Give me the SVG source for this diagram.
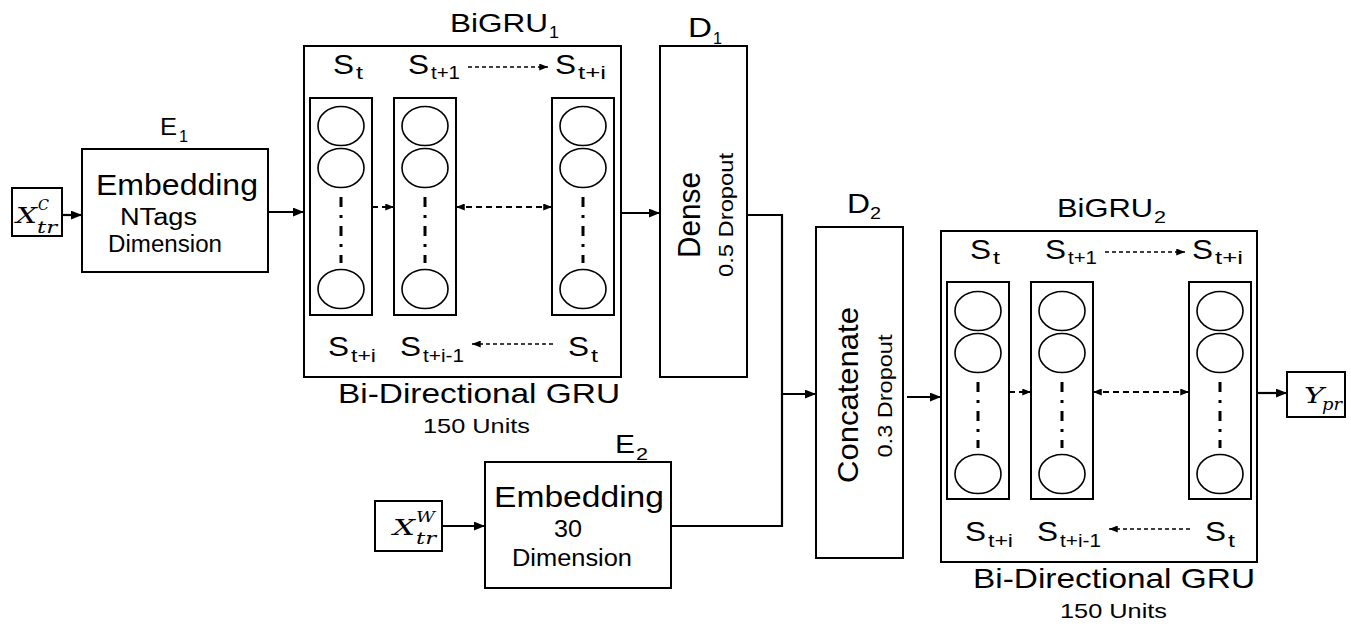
<svg xmlns="http://www.w3.org/2000/svg" width="1351" height="624" viewBox="0 0 1351 624">
<style>
text{font-family:"Liberation Sans",Arial,sans-serif;fill:#000;font-weight:400}
.m{font-family:"DejaVu Serif","Liberation Serif",serif;font-style:italic;font-weight:400}
.box{fill:#fff;stroke:#000;stroke-width:2}
.col{fill:none;stroke:#000;stroke-width:2}
.cell{fill:none;stroke:#000;stroke-width:1.6}
.dd{stroke:#000;stroke-width:3;stroke-dasharray:10 8 3 8;fill:none}
.wire{fill:none;stroke:#000;stroke-width:2.2}
.dash1{fill:none;stroke:#000;stroke-width:1.4;stroke-dasharray:4 3}
.dash2{fill:none;stroke:#000;stroke-width:2.2;stroke-dasharray:6 4}
.s{font-size:28px}
.sb{font-size:18px}
</style>
<defs>
<marker id="ah" viewBox="0 0 10 8" refX="10" refY="4" markerWidth="11" markerHeight="9" markerUnits="userSpaceOnUse" orient="auto"><path d="M0,0L10,4L0,8z" fill="#000"/></marker>
<marker id="ahs" viewBox="0 0 10 8" refX="10" refY="4" markerWidth="9" markerHeight="7" markerUnits="userSpaceOnUse" orient="auto-start-reverse"><path d="M0,0L10,4L0,8z" fill="#000"/></marker>
<g id="colcells">
<ellipse cx="0" cy="126" rx="23" ry="19.5" class="cell"/>
<ellipse cx="0" cy="168" rx="23" ry="19.5" class="cell"/>
<line x1="0" y1="197" x2="0" y2="263" class="dd"/>
<ellipse cx="0" cy="289" rx="23" ry="19.5" class="cell"/>
</g>
</defs>

<g id="connectors">
<line x1="62" y1="215" x2="82" y2="215" class="wire" marker-end="url(#ah)"/>
<line x1="268" y1="212" x2="304" y2="212" class="wire" marker-end="url(#ah)"/>
<line x1="621" y1="213" x2="660" y2="213" class="wire" marker-end="url(#ah)"/>
<polyline points="747,215 782,215 782,394 816,394" class="wire" marker-end="url(#ah)"/>
<polyline points="671,526 782,526 782,394" class="wire"/>
<line x1="442" y1="526" x2="485" y2="526" class="wire" marker-end="url(#ah)"/>
<line x1="907" y1="397" x2="941" y2="397" class="wire" marker-end="url(#ah)"/>
<line x1="1257" y1="393" x2="1287" y2="393" class="wire" marker-end="url(#ah)"/>
</g>

<g id="xc">
<rect x="12" y="188" width="50" height="48" class="box"/>
<text x="16" y="223" class="m" font-size="22" textLength="21" lengthAdjust="spacingAndGlyphs">X</text>
<text x="38" y="210" class="m" font-size="14" textLength="11" lengthAdjust="spacingAndGlyphs">C</text>
<text x="37" y="233" class="m" font-size="16" textLength="20" lengthAdjust="spacingAndGlyphs">tr</text>
</g>

<g id="e1">
<rect x="82" y="149" width="186" height="123" class="box"/>
<text x="160" y="135" font-size="24" textLength="17" lengthAdjust="spacingAndGlyphs">E</text>
<text x="179" y="142" font-size="16" textLength="9" lengthAdjust="spacingAndGlyphs">1</text>
<text x="96" y="195" font-size="30" textLength="162" lengthAdjust="spacingAndGlyphs">Embedding</text>
<text x="120" y="225" font-size="23" textLength="77" lengthAdjust="spacingAndGlyphs">NTags</text>
<text x="108" y="252" font-size="23" textLength="114" lengthAdjust="spacingAndGlyphs">Dimension</text>
</g>

<g id="bigru1">
<text x="450" y="32" font-size="25" textLength="98" lengthAdjust="spacingAndGlyphs">BiGRU</text>
<text x="549" y="38" font-size="17" textLength="10" lengthAdjust="spacingAndGlyphs">1</text>
<g id="bigru1-body">
<rect x="304" y="46" width="317" height="331" class="box"/>
<text x="333" y="74" class="s" textLength="21" lengthAdjust="spacingAndGlyphs">S</text>
<text x="356" y="79" class="sb" textLength="7" lengthAdjust="spacingAndGlyphs">t</text>
<text x="408" y="74" class="s" textLength="21" lengthAdjust="spacingAndGlyphs">S</text>
<text x="431" y="79" class="sb" textLength="29" lengthAdjust="spacingAndGlyphs">t+1</text>
<line x1="468" y1="67" x2="548" y2="67" class="dash1" marker-end="url(#ahs)"/>
<text x="555" y="74" class="s" textLength="21" lengthAdjust="spacingAndGlyphs">S</text>
<text x="578" y="79" class="sb" textLength="28" lengthAdjust="spacingAndGlyphs">t+i</text>
<rect x="310" y="98" width="62" height="217" class="col"/>
<rect x="394" y="98" width="62" height="217" class="col"/>
<rect x="552" y="98" width="62" height="217" class="col"/>
<use href="#colcells" x="341"/>
<use href="#colcells" x="425"/>
<use href="#colcells" x="583"/>
<line x1="372" y1="207" x2="394" y2="207" class="dash2" marker-end="url(#ahs)"/>
<line x1="456" y1="207" x2="552" y2="207" class="dash2" marker-start="url(#ahs)" marker-end="url(#ahs)"/>
<text x="328" y="356" class="s" textLength="21" lengthAdjust="spacingAndGlyphs">S</text>
<text x="351" y="362" class="sb" textLength="25" lengthAdjust="spacingAndGlyphs">t+i</text>
<text x="400" y="356" class="s" textLength="21" lengthAdjust="spacingAndGlyphs">S</text>
<text x="423" y="362" class="sb" textLength="41" lengthAdjust="spacingAndGlyphs">t+i-1</text>
<line x1="553" y1="344" x2="472" y2="344" class="dash1" marker-end="url(#ahs)"/>
<text x="568" y="356" class="s" textLength="21" lengthAdjust="spacingAndGlyphs">S</text>
<text x="591" y="362" class="sb" textLength="7" lengthAdjust="spacingAndGlyphs">t</text>
<text x="338" y="403" font-size="28" textLength="282" lengthAdjust="spacingAndGlyphs">Bi-Directional GRU</text>
<text x="423" y="433" font-size="21" textLength="107" lengthAdjust="spacingAndGlyphs">150 Units</text>
</g>
</g>

<g id="d1">
<rect x="660" y="46" width="87" height="331" class="box"/>
<text x="688" y="37" font-size="27" textLength="24" lengthAdjust="spacingAndGlyphs">D</text>
<text x="713" y="44" font-size="17" textLength="9" lengthAdjust="spacingAndGlyphs">1</text>
<text transform="translate(700,215) rotate(-90)" text-anchor="middle" font-size="31" textLength="86" lengthAdjust="spacingAndGlyphs">Dense</text>
<text transform="translate(733,215) rotate(-90)" text-anchor="middle" font-size="21" textLength="124" lengthAdjust="spacingAndGlyphs">0.5 Dropout</text>
</g>

<g id="xw">
<rect x="375" y="501" width="67" height="50" class="box"/>
<text x="393" y="535" class="m" font-size="22" textLength="22" lengthAdjust="spacingAndGlyphs">X</text>
<text x="416" y="522" class="m" font-size="14" textLength="19" lengthAdjust="spacingAndGlyphs">W</text>
<text x="416" y="544" class="m" font-size="16" textLength="20" lengthAdjust="spacingAndGlyphs">tr</text>
</g>

<g id="e2">
<rect x="485" y="462" width="186" height="126" class="box"/>
<text x="615" y="453" font-size="25" textLength="20" lengthAdjust="spacingAndGlyphs">E</text>
<text x="636" y="460" font-size="17" textLength="12" lengthAdjust="spacingAndGlyphs">2</text>
<text x="494" y="507" font-size="29" textLength="170" lengthAdjust="spacingAndGlyphs">Embedding</text>
<text x="554" y="537" font-size="23" textLength="28" lengthAdjust="spacingAndGlyphs">30</text>
<text x="512" y="566" font-size="23" textLength="120" lengthAdjust="spacingAndGlyphs">Dimension</text>
</g>

<g id="d2">
<rect x="816" y="227" width="87" height="331" class="box"/>
<text x="847" y="213" font-size="27" textLength="23" lengthAdjust="spacingAndGlyphs">D</text>
<text x="870" y="219" font-size="17" textLength="11" lengthAdjust="spacingAndGlyphs">2</text>
<text transform="translate(858,395) rotate(-90)" text-anchor="middle" font-size="30" textLength="176" lengthAdjust="spacingAndGlyphs">Concatenate</text>
<text transform="translate(892,396) rotate(-90)" text-anchor="middle" font-size="21" textLength="123" lengthAdjust="spacingAndGlyphs">0.3 Dropout</text>
</g>

<g id="bigru2">
<text x="1057" y="217" font-size="25" textLength="96" lengthAdjust="spacingAndGlyphs">BiGRU</text>
<text x="1154" y="223" font-size="17" textLength="12" lengthAdjust="spacingAndGlyphs">2</text>
<g transform="translate(637,185)">
<rect x="304" y="46" width="316" height="331" class="box"/>
<text x="333" y="74" class="s" textLength="21" lengthAdjust="spacingAndGlyphs">S</text>
<text x="356" y="79" class="sb" textLength="7" lengthAdjust="spacingAndGlyphs">t</text>
<text x="408" y="74" class="s" textLength="21" lengthAdjust="spacingAndGlyphs">S</text>
<text x="431" y="79" class="sb" textLength="29" lengthAdjust="spacingAndGlyphs">t+1</text>
<line x1="468" y1="67" x2="548" y2="67" class="dash1" marker-end="url(#ahs)"/>
<text x="555" y="74" class="s" textLength="21" lengthAdjust="spacingAndGlyphs">S</text>
<text x="578" y="79" class="sb" textLength="28" lengthAdjust="spacingAndGlyphs">t+i</text>
<rect x="310" y="97" width="62" height="217" class="col"/>
<rect x="394" y="97" width="62" height="217" class="col"/>
<rect x="552" y="97" width="62" height="217" class="col"/>
<use href="#colcells" x="341"/>
<use href="#colcells" x="425"/>
<use href="#colcells" x="583"/>
<line x1="372" y1="207" x2="394" y2="207" class="dash2" marker-end="url(#ahs)"/>
<line x1="456" y1="207" x2="552" y2="207" class="dash2" marker-start="url(#ahs)" marker-end="url(#ahs)"/>
<text x="328" y="356" class="s" textLength="21" lengthAdjust="spacingAndGlyphs">S</text>
<text x="351" y="362" class="sb" textLength="25" lengthAdjust="spacingAndGlyphs">t+i</text>
<text x="400" y="356" class="s" textLength="21" lengthAdjust="spacingAndGlyphs">S</text>
<text x="423" y="362" class="sb" textLength="41" lengthAdjust="spacingAndGlyphs">t+i-1</text>
<line x1="553" y1="344" x2="472" y2="344" class="dash1" marker-end="url(#ahs)"/>
<text x="568" y="356" class="s" textLength="21" lengthAdjust="spacingAndGlyphs">S</text>
<text x="591" y="362" class="sb" textLength="7" lengthAdjust="spacingAndGlyphs">t</text>
<text x="336" y="403" font-size="28" textLength="282" lengthAdjust="spacingAndGlyphs">Bi-Directional GRU</text>
<text x="423" y="433" font-size="21" textLength="107" lengthAdjust="spacingAndGlyphs">150 Units</text>
</g>
</g>

<g id="ypr">
<rect x="1287" y="372" width="58" height="45" class="box"/>
<text x="1304" y="403" class="m" font-size="22" textLength="20" lengthAdjust="spacingAndGlyphs">Y</text>
<text x="1322" y="410" class="m" font-size="16" textLength="20" lengthAdjust="spacingAndGlyphs">pr</text>
</g>
</svg>
